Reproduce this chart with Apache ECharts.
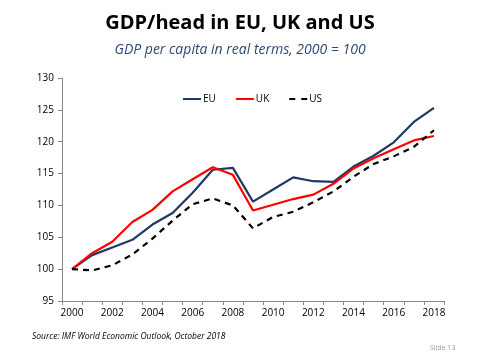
<!DOCTYPE html>
<html>
<head>
<meta charset="utf-8">
<script src="https://cdn.jsdelivr.net/npm/echarts@6/dist/echarts.min.js"></script>
<style>html,body{margin:0;padding:0;background:#fff}#c{width:480px;height:360px}</style>
</head>
<body>
<div id="c"></div>
<script>
var years = ['2000','2001','2002','2003','2004','2005','2006','2007','2008','2009','2010','2011','2012','2013','2014','2015','2016','2017','2018'];
var eu = [100, 102.2, 103.4, 104.6, 107.0, 108.8, 112.0, 115.6, 115.9, 110.6, 112.5, 114.4, 113.8, 113.7, 116.1, 117.8, 119.9, 123.1, 125.3];
var uk = [100, 102.5, 104.3, 107.4, 109.3, 112.2, 114.1, 116.0, 114.8, 109.2, 110.1, 111.0, 111.7, 113.4, 115.8, 117.4, 118.8, 120.2, 120.9];
var us = [100, 99.8, 100.6, 102.3, 104.8, 107.6, 110.2, 111.1, 110.0, 106.4, 108.2, 109.0, 110.5, 112.2, 114.5, 116.5, 117.7, 119.2, 121.8];
var yTicks = [95, 100, 105, 110, 115, 120, 125, 130];

var font = 'Open Sans, Liberation Sans, sans-serif';
var chart = echarts.init(document.getElementById('c'));
chart.setOption({
  animation: false,
  backgroundColor: '#fff',
  title: [
    {text: 'GDP/head in EU, UK and US', left: 'center', top: 8,
     textStyle: {fontFamily: font, fontWeight: 'bold', fontSize: 20, color: '#000'}},
    {text: 'GDP per capita in real terms, 2000 = 100', left: 'center', top: 38,
     textStyle: {fontFamily: font, fontStyle: 'italic', fontWeight: 'normal', fontSize: 14, color: '#2F4A78'}},
    {text: 'Source: IMF World Economic Outlook, October 2018', left: 27, top: 327,
     textStyle: {fontFamily: font, fontStyle: 'italic', fontWeight: 'normal', fontSize: 8.5, color: '#000'}},
    {text: 'Slide 13', left: 425, top: 339,
     textStyle: {fontFamily: font, fontWeight: 'normal', fontSize: 7, color: '#999'}}
  ],
  legend: {
    top: 89, left: 178,
    itemWidth: 18, itemHeight: 2, itemGap: 20,
    icon: 'rect',
    textStyle: {fontFamily: font, fontSize: 10, color: '#000', padding: [0,0,0,-3]},
    data: [
      {name: 'EU', icon: 'rect'},
      {name: 'UK', icon: 'rect'},
      {name: 'US', icon: 'path://M0,0 H6 V2 H0 Z M12,0 H18 V2 H12 Z'}
    ]
  },
  grid: {left: 62, right: 36, top: 78, bottom: 59},
  xAxis: {
    type: 'category', data: years, boundaryGap: true,
    axisLine: {lineStyle: {color: '#888', width: 1}},
    axisTick: {show: true, interval: 0, length: 4, lineStyle: {color: '#888'}},
    axisLabel: {interval: 1, fontFamily: font, fontSize: 10, color: '#000', margin: 7}
  },
  yAxis: {
    type: 'value', min: yTicks[0], max: yTicks[yTicks.length - 1], interval: 5,
    axisLine: {show: true, lineStyle: {color: '#888', width: 1}},
    axisTick: {show: true, length: 4, lineStyle: {color: '#888'}},
    splitLine: {show: false},
    axisLabel: {fontFamily: font, fontSize: 10, color: '#000', margin: 8}
  },
  series: [
    {name: 'EU', type: 'line', data: eu, symbol: 'none', color: '#1F3864',
     lineStyle: {width: 2.2, color: '#1F3864'}},
    {name: 'UK', type: 'line', data: uk, symbol: 'none', color: '#FF0000',
     lineStyle: {width: 2.2, color: '#FF0000'}},
    {name: 'US', type: 'line', data: us, symbol: 'none', color: '#000',
     lineStyle: {width: 2.2, color: '#000', type: [6, 5]}}
  ]
});
</script>
</body>
</html>
